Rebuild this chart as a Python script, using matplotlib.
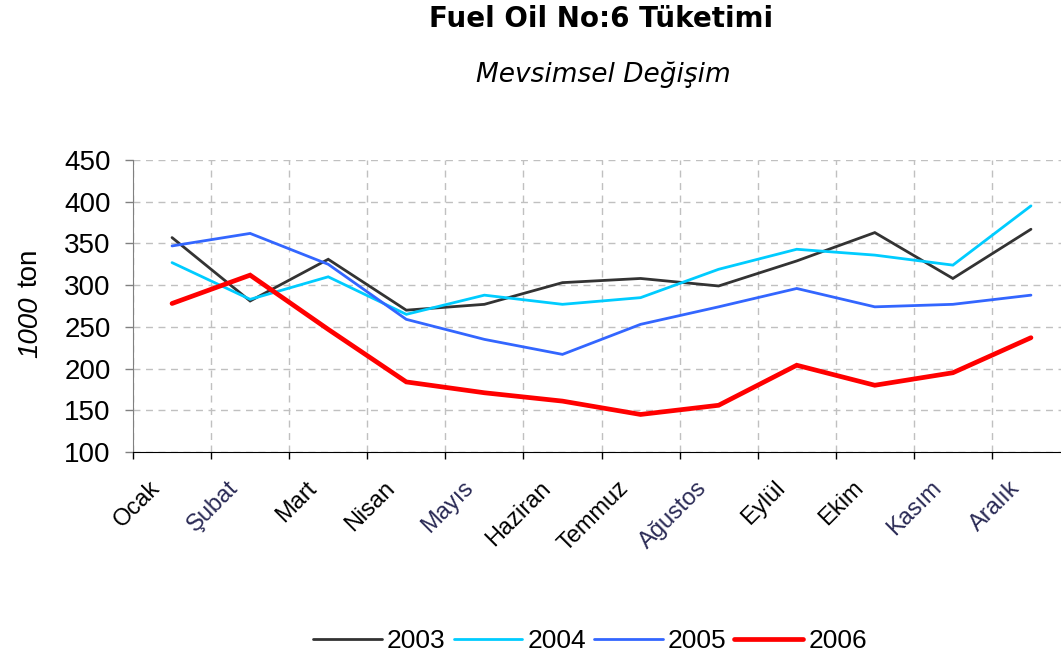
import matplotlib
matplotlib.use("Agg")
import matplotlib.pyplot as plt
import numpy as np

months = ["Ocak", "Şubat", "Mart", "Nisan", "Mayıs", "Haziran", "Temmuz",
          "Ağustos", "Eylül", "Ekim", "Kasım", "Aralık"]
y2003 = [357, 281, 331, 270, 277, 303, 308, 299, 329, 363, 308, 367]
y2004 = [327, 283, 310, 265, 288, 277, 285, 319, 343, 336, 324, 395]
y2005 = [347, 362, 325, 259, 235, 217, 253, 274, 296, 274, 277, 288]
y2006 = [278, 312, 247, 184, 171, 161, 145, 156, 204, 180, 195, 237]
series_names = ["2003", "2004", "2005", "2006"]
yticks = [100, 150, 200, 250, 300, 350, 400, 450]

W, H = 1061, 661
fig = plt.figure(figsize=(W / 100, H / 100), dpi=100)
ax = fig.add_axes([133 / W, 1 - 452 / H, (1070 - 133) / W, (452 - 160) / H])

x = np.arange(len(months))
styles = [("#333333", 2.0), ("#00CCFF", 2.0), ("#3366FF", 2.0), ("#FF0000", 3.4)]
for vals, name, (c, lw) in zip([y2003, y2004, y2005, y2006], series_names, styles):
    ax.plot(x, vals, color=c, lw=lw, label=name, solid_capstyle="round",
            solid_joinstyle="miter", clip_on=False)

ax.set_xlim(-0.5, len(months) - 0.5)
ax.set_ylim(100, 450)
ax.set_yticks(yticks)
ax.set_xticks(np.arange(len(months) + 1) - 0.5)
ax.set_xticklabels([])
ax.set_xticks(x - 0.29, minor=True)
ax.set_xticklabels(months, minor=True, rotation=45, ha="right", va="top",
                   rotation_mode="anchor", fontsize=17, family="Liberation Sans")
dark = {"Şubat", "Mayıs", "Ağustos", "Kasım", "Aralık"}
for lbl in ax.get_xticklabels(minor=True):
    if lbl.get_text() in dark:
        lbl.set_color("#2a2a55")
ax.tick_params(axis="x", which="minor", length=0, pad=18)
ax.tick_params(axis="x", which="major", length=5, width=1, color="#000000", direction="out")
ax.tick_params(axis="y", length=6, width=1, color="#808080", pad=10, labelsize=20)
for lbl in ax.get_yticklabels():
    lbl.set_family("Liberation Sans")

ax.grid(True, which="major", color="#c0c0c0", linestyle=(0, (5, 4)), lw=1)
ax.set_axisbelow(True)
for s in ["top", "right"]:
    ax.spines[s].set_visible(False)
ax.spines["left"].set_color("#808080")
ax.spines["bottom"].set_color("#000000")

fig.text(30 / W, 1 - 358 / H, "1000", rotation=90, ha="center", va="bottom",
         fontsize=20, style="italic", family="Liberation Sans")
fig.text(30 / W, 1 - 249 / H, "ton", rotation=90, ha="center", va="top",
         fontsize=20, family="Liberation Sans")

fig.text(601 / W, 1 - 19 / H, "Fuel Oil No:6 Tüketimi", ha="center", va="center",
         fontsize=20, fontweight="bold", family="DejaVu Sans")
fig.text(603 / W, 1 - 75 / H, "Mevsimsel Değişim", ha="center", va="center",
         fontsize=19, style="italic", family="DejaVu Sans")

leg = fig.legend(loc="center", bbox_to_anchor=(590 / W, 1 - 641 / H), ncol=4, frameon=False,
                 prop={"family": "Liberation Sans", "size": 19}, handlelength=2.6,
                 handletextpad=0.2, columnspacing=0.3)

fig.savefig("out.png", dpi=100)
